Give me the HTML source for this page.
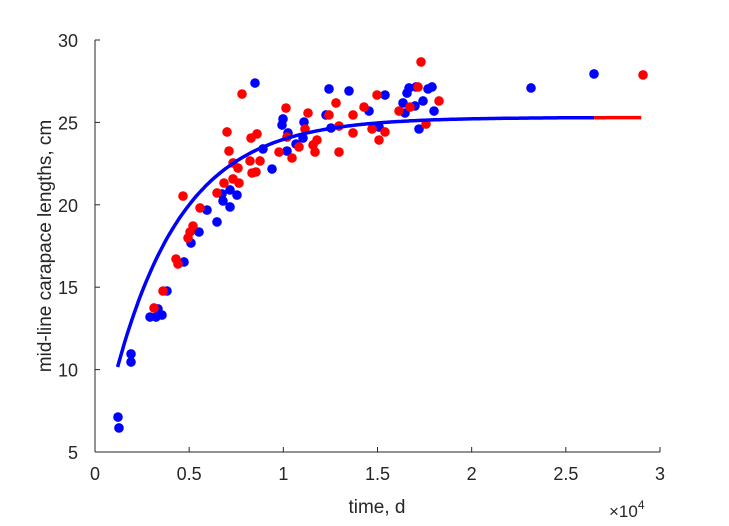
<!DOCTYPE html>
<html><head><meta charset="utf-8"><style>body{margin:0;background:#fff}svg{font-family:"Liberation Sans",sans-serif}</style></head>
<body>
<svg id="c" width="729" height="521"></svg>
<script>
const xTicks=[0,0.5,1,1.5,2,2.5,3];
const yTicks=[5,10,15,20,25,30];
const blueX=[8496,12425,13487,15399,16673,17045,16567,17682,17895,17417,16355,16992,16461,18001,17204,14549,12266,12532,15080,9983,9930,11098,10248,11045,10673,10195,8921,9399,7169,6744,7540,6797,7169,5947,6478,5522,5098,4726,3823,3345,3558,2921,3239,1912,1912,1221,1274,23152,26497];
const blueY=[27.39,27.03,26.91,26.66,27.09,27.15,26.78,27.03,27.15,26.30,26.18,26.0,25.57,25.69,24.60,25.69,25.45,24.66,24.72,25.21,24.84,25.02,24.36,24.05,23.69,23.26,23.39,22.17,20.90,20.66,20.59,20.23,19.87,19.68,18.96,18.35,17.68,16.53,14.77,13.68,13.31,13.19,13.19,10.95,10.46,7.12,6.46,27.09,27.94];
const redX=[4673,7806,7009,7115,8284,8602,7328,8231,8762,7593,8337,8549,7328,7646,6850,6478,5576,5204,5045,4938,10142,11310,11151,10195,9770,10461,10832,11788,11576,11682,12797,12425,12956,13700,13700,12956,14284,14974,14709,15399,15080,16142,16727,17151,17576,18266,17311,29099,4301,4407,3611,3133];
const redY=[20.53,26.72,24.42,23.26,24.05,24.30,22.54,22.66,22.66,22.23,21.93,21.99,21.57,21.32,21.32,20.72,19.81,18.71,18.35,17.99,25.87,25.57,24.60,24.11,23.20,22.84,23.51,23.93,23.63,23.20,26.18,25.45,24.78,25.45,24.36,23.20,25.93,26.66,24.60,24.42,23.93,25.69,25.93,27.15,24.90,26.30,28.67,27.88,16.71,16.41,14.77,13.74];
const Linf=25.3, K=2.762e-4, T0=-659;
const fitRange=[1200,26500,29000];

const NS="http://www.w3.org/2000/svg", svg=document.getElementById('c');
const X0=95,X1=660,Y0=452,Y1=40;
const sx=v=>X0+(v/30000)*(X1-X0);
const sy=v=>Y0-(v-5)/25*(Y0-Y1);
function mk(t,a,p){const e=document.createElementNS(NS,t);for(const k in a)e.setAttribute(k,a[k]);(p||svg).appendChild(e);return e;}
let ax=mk('g',{});


let l=mk('line',{x1:X0,y1:Y0,x2:X1,y2:Y0,stroke:'#262626'},ax);

l=mk('line',{x1:X0,y1:Y0,x2:X0,y2:Y1,stroke:'#262626'},ax);

xTicks.forEach(v=>{const x=sx(v*10000);mk('line',{x1:x,y1:Y0,x2:x,y2:Y0-5,stroke:'#262626'},ax);
 const t=mk('text',{x:x,y:Y0+28,'text-anchor':'middle','font-size':18,fill:'#262626'},ax);t.textContent=v;
 });
yTicks.forEach(v=>{const y=sy(v);mk('line',{x1:X0,y1:y,x2:X0+5,y2:y,stroke:'#262626'},ax);
 const t=mk('text',{x:X0-17,y:y+7,'text-anchor':'end','font-size':18,fill:'#262626'},ax);t.textContent=v;
 });
let t=mk('text',{x:377,y:513,'text-anchor':'middle','font-size':19,fill:'#262626'});t.textContent='time, d';

t=mk('text',{x:0,y:0,'text-anchor':'middle','font-size':19,fill:'#262626',transform:'translate(51,246) rotate(-90)'});t.textContent='mid-line carapace lengths, cm';

t=mk('text',{x:609,y:517,'font-size':17,fill:'#262626'});t.innerHTML='×10<tspan dy="-8" font-size="12">4</tspan>';

blueX.forEach((v,i)=>{const c=mk('circle',{cx:sx(v),cy:sy(blueY[i]),r:4.8,fill:'#0000ff'});
 });
redX.forEach((v,i)=>{const c=mk('circle',{cx:sx(v),cy:sy(redY[i]),r:4.8,fill:'#ff0000'});
 });
function curve(a,b,col,name){let d='';for(let i=0;i<=200;i++){const tt=a+(b-a)*i/200;const L=Linf*(1-Math.exp(-K*(tt-T0)));d+=(i?'L':'M')+sx(tt).toFixed(1)+','+sy(L).toFixed(1);}
 const p=mk('path',{d:d,fill:'none',stroke:col,'stroke-width':3.5});}
curve(fitRange[1],fitRange[2],'#ff0000','red-fit-line');
curve(fitRange[0],fitRange[1],'#0000ff','blue-fit-line');
</script>
</body></html>
